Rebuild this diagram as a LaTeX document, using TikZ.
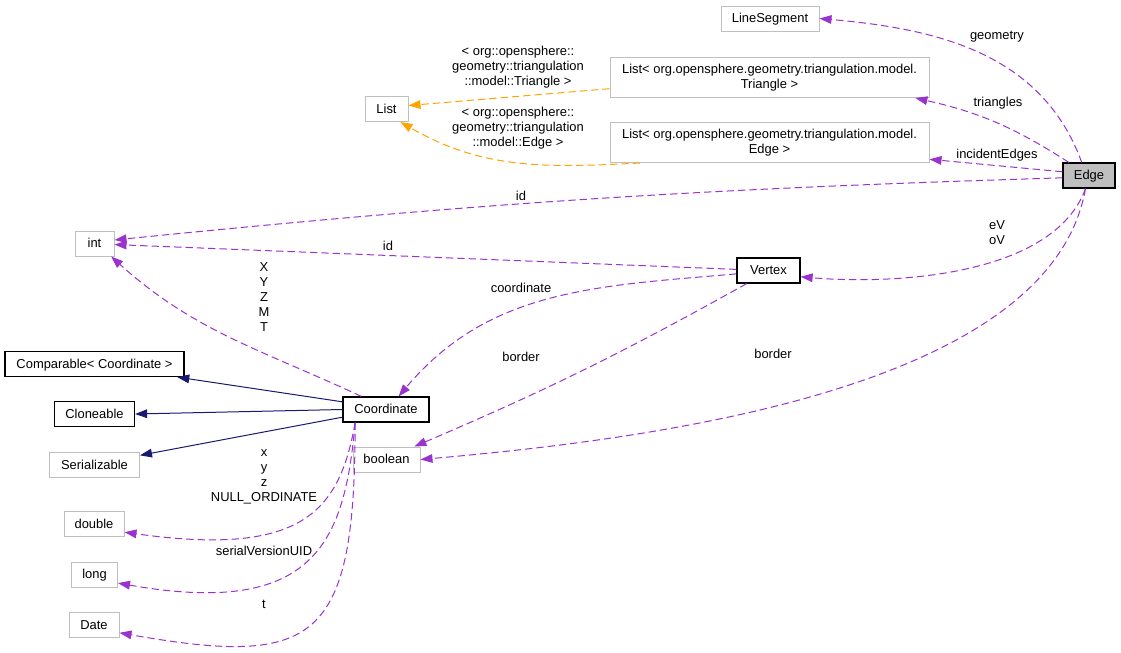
\documentclass[tikz,border=0pt]{standalone}
\usepackage{fontspec}
\setmainfont{Liberation Sans}
\usepackage{xcolor}
\usepackage{tikz}
\usetikzlibrary{calc}
\usetikzlibrary{arrows.meta}
\usetikzlibrary{positioning}
\tikzset{>={Triangle[length=9pt,width=6.5pt]}}
\definecolor{doxpurple}{HTML}{9A32CD}
\definecolor{doxorange}{HTML}{FFA500}
\definecolor{doxnavy}{HTML}{191970}
\definecolor{doxgrey}{HTML}{BFBFBF}
\newcommand{\doxfont}{\fontsize{9.7}{11.25}\selectfont}
\tikzstyle{cls} = [draw=black, line width=0.9pt, inner sep=0, text height=7.8pt, text depth=1.2pt, minimum height=18.75pt, font=\doxfont]
\tikzstyle{ext} = [draw=doxgrey, line width=0.75pt, inner sep=0, text height=7.8pt, text depth=1.2pt, minimum height=18.75pt, font=\doxfont]
\tikzstyle{extwide} = [draw=doxgrey, line width=0.75pt, inner sep=0, align=center, minimum height=30pt, font=\doxfont]
\tikzstyle{assoc} = [->, color=doxpurple, line width=0.75pt, dash pattern=on 5.5pt off 3pt]
\tikzstyle{tpl} = [->, color=doxorange, line width=0.75pt, dash pattern=on 5.5pt off 3pt]
\tikzstyle{inherit} = [->, color=doxnavy, line width=0.75pt]
\tikzstyle{lbl} = [draw=none, inner sep=0, align=center, font=\doxfont]

\begin{document}
\begin{tikzpicture}[x=0.75pt, y=-0.75pt]
\useasboundingbox (0, 0) rectangle (1121, 653);
%\node [draw=none] at (560,0) {Edge collaboration};
\node [cls, fill=doxgrey, minimum width=39pt] (edge) at (1089, 175.5) {Edge};
\node [ext, minimum width=73.5pt] (lineseg) at (770, 18.5) {LineSegment};
\node [extwide, minimum width=239.25pt] (trilist) at (769.5, 77.5) {List< org.opensphere.geometry.triangulation.model.\\Triangle >};
\node [extwide, minimum width=239.25pt] (edgelist) at (769.5, 142.5) {List< org.opensphere.geometry.triangulation.model.\\Edge >};
\node [ext, minimum width=32.25pt] (list) at (386.5, 109) {List};
\node [ext, minimum width=29.25pt] (int) at (94.5, 243.5) {int};
\node [cls, minimum width=47.25pt] (vertex) at (768.5, 270.5) {Vertex};
\node [cls, minimum width=134.25pt] (comparable) at (94.5, 364) {Comparable< Coordinate >};
\node [cls, minimum width=60pt] (cloneable) at (94.5, 414) {Cloneable};
\node [ext, minimum width=67.5pt] (serializable) at (94.5, 465) {Serializable};
\node [cls, minimum width=64.5pt] (coord) at (386, 409.5) {Coordinate};
\node [ext, minimum width=50.25pt] (bool) at (386.5, 459.5) {boolean};
\node [ext, minimum width=45pt] (double) at (94, 524) {double};
\node [ext, minimum width=34.5pt] (long) at (94.5, 574.5) {long};
\node [ext, minimum width=37.5pt] (date) at (94, 625) {Date};

% template instances
\draw [tpl] (trilist.184) to (list.9);
\draw [tpl] (edgelist.189) to[out=183, in=-30] (list.-43);
\node [lbl] (tplTri) at (518, 67.5) {< org::opensphere::\\geometry::triangulation\\::model::Triangle >};
\node [lbl] (tplEdge) at (518, 128) {< org::opensphere::\\geometry::triangulation\\::model::Edge >};

% members of Edge
\draw [assoc] (edge.119) to[out=110, in=-5] (lineseg.east);
\draw [assoc] (edge.147) to[bend right=10] (trilist.-8.5);
\draw [assoc] (edge.172) to (edgelist.-6.4);
\draw [assoc] (edge.185) to[bend right=2] (int.10);
\draw [assoc] (edge.-105) to[out=-110, in=-5, looseness=0.8] (vertex.-11.7);
\draw [assoc] (edge.-105) to[out=-100, in=5, out distance=150pt, in distance=187.5pt] (bool.east);
\node [lbl] (lGeom) at (997, 37) {geometry};
\node [lbl] (lTri) at (998, 103) {triangles};
\node [lbl] (lInc) at (997, 155) {incidentEdges};
\node [lbl] (lId) at (521, 196) {id};
\node [lbl] (lVert) at (997, 233) {eV\\oV};
\node [lbl] (lBorderE) at (773, 354) {border};

% members of Vertex
\draw [assoc] (vertex.178) to (int.-3);
\draw [assoc] (vertex.186) to[out=185, in=50] (coord.46);
\draw [assoc] (vertex.211) to[bend left=3] (bool.25);
\node [lbl] (lIdV) at (388, 246) {id};
\node [lbl] (lCoord) at (521, 288) {coordinate};
\node [lbl] (lBorderV) at (521, 357) {border};

% Coordinate
\draw [inherit] (coord.170) to (comparable.-9);
\draw [inherit] (coord.west) to (cloneable.east);
\draw [inherit] (coord.190) to (serializable.12);
\draw [assoc] (coord.152) to[out=155, in=-42] (int.-38);
\draw [assoc] (coord.203) to[out=-100, in=-8, out distance=67.5pt, in distance=135pt] (double.-15);
\draw [assoc] (coord.203) to[out=-95, in=-10, out distance=90pt, in distance=150pt] (long.-20);
\draw [assoc] (coord.203) to[out=-90, in=-10, out distance=165pt, in distance=150pt] (date.-17);
\node [lbl] (lXYZ) at (264, 297.5) {X\\Y\\Z\\M\\T};
\node [lbl] (lxyz) at (264, 476.5) {x\\y\\z\\NULL\_ORDINATE};
\node [lbl] (lSer) at (264, 551) {serialVersionUID};
\node [lbl] (lT) at (264, 604) {t};
\end{tikzpicture}
\end{document}
